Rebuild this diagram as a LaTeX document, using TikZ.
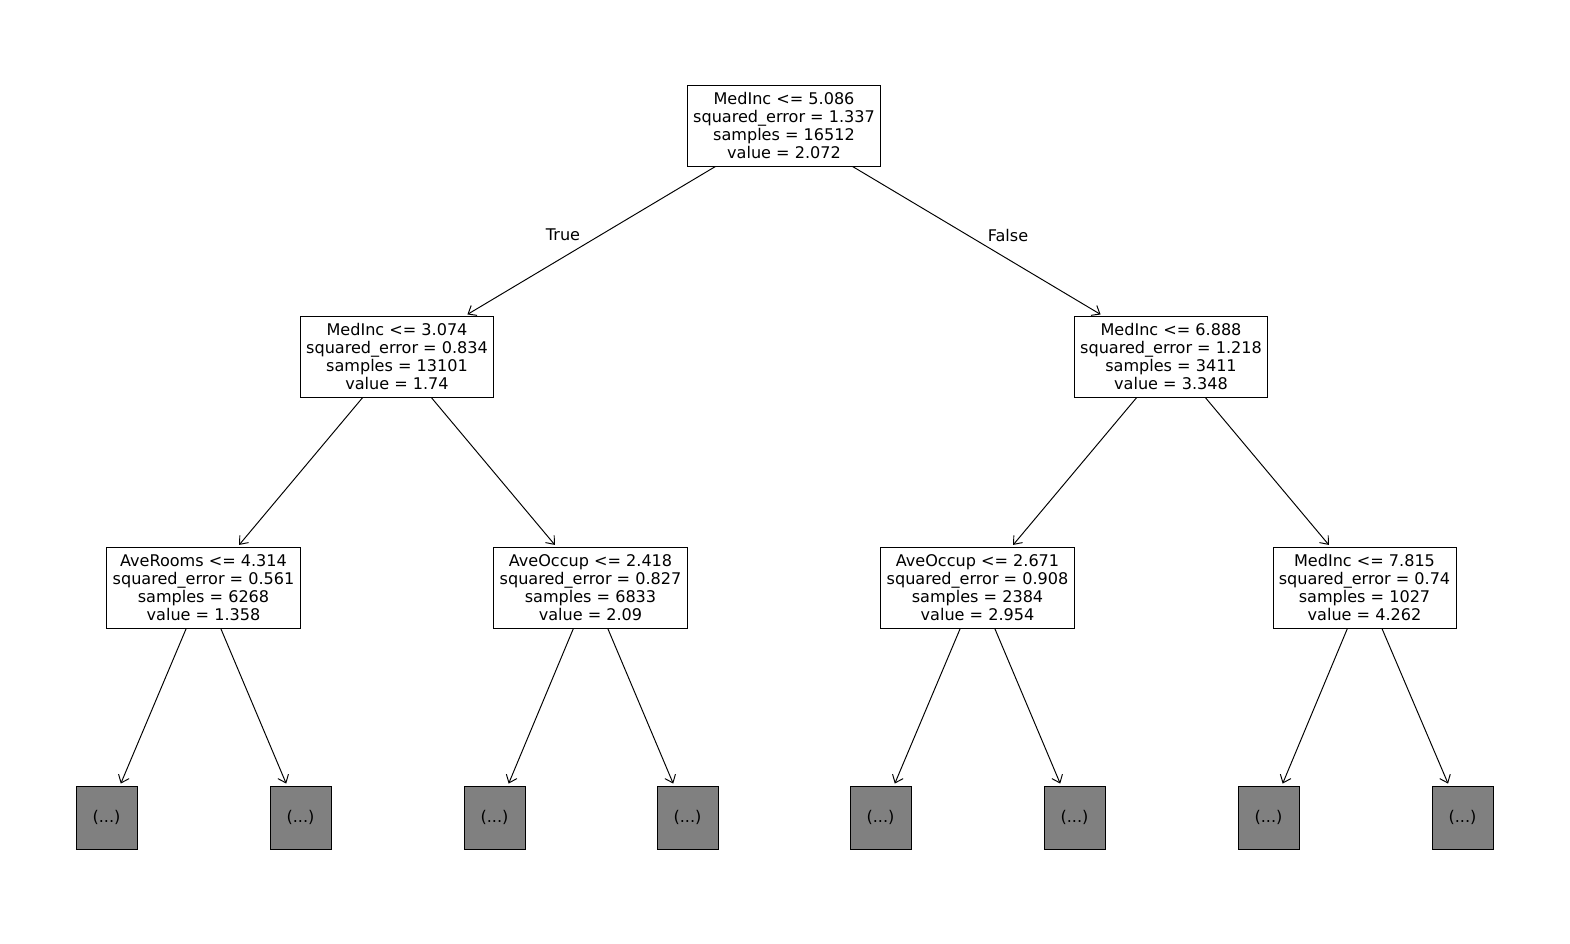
\documentclass[tikz,border=0pt]{standalone}
\usepackage{fontspec}
\setmainfont{DejaVu Sans}
\usetikzlibrary{arrows.meta}
\begin{document}
\begin{tikzpicture}[x=0.02cm,y=-0.02cm,
  split/.style={draw,line width=0.55pt,align=center,inner xsep=3.3pt,inner ysep=2pt,
    font=\fontsize{9.15}{10.25}\selectfont,minimum height=81*0.02cm},
  leaf/.style={draw,line width=0.55pt,fill=black!50,minimum width=61*0.02cm,minimum height=63*0.02cm,
    inner sep=0pt,font=\fontsize{9.15}{10.25}\selectfont},
  edge/.style={line width=0.55pt,-{Straight Barb[length=4pt,width=6.5pt]},shorten >=1.2pt},
  lbl/.style={font=\fontsize{9.15}{10.25}\selectfont}]
\useasboundingbox (0,0) rectangle (1570,944);
\node[split] (r) at (784,125.5) {MedInc <= 5.086\\squared\_error = 1.337\\samples = 16512\\value = 2.072};
\node[split] (a) at (397,356.5) {MedInc <= 3.074\\squared\_error = 0.834\\samples = 13101\\value = 1.74};
\node[split] (b) at (1171,356.5) {MedInc <= 6.888\\squared\_error = 1.218\\samples = 3411\\value = 3.348};
\node[split] (aa) at (203.5,587.5) {AveRooms <= 4.314\\squared\_error = 0.561\\samples = 6268\\value = 1.358};
\node[split] (ab) at (590.5,587.5) {AveOccup <= 2.418\\squared\_error = 0.827\\samples = 6833\\value = 2.09};
\node[split] (ba) at (977.5,587.5) {AveOccup <= 2.671\\squared\_error = 0.908\\samples = 2384\\value = 2.954};
\node[split] (bb) at (1364.5,587.5) {MedInc <= 7.815\\squared\_error = 0.74\\samples = 1027\\value = 4.262};
\node[leaf] (l1) at (106.5,817.5) {(...)};
\node[leaf] (l2) at (300.5,817.5) {(...)};
\node[leaf] (l3) at (494.5,817.5) {(...)};
\node[leaf] (l4) at (687.5,817.5) {(...)};
\node[leaf] (l5) at (880.5,817.5) {(...)};
\node[leaf] (l6) at (1074.5,817.5) {(...)};
\node[leaf] (l7) at (1268.5,817.5) {(...)};
\node[leaf] (l8) at (1462.5,817.5) {(...)};
\draw[edge] (r) -- (a);
\draw[edge] (r) -- (b);
\draw[edge] (a) -- (aa);
\draw[edge] (a) -- (ab);
\draw[edge] (b) -- (ba);
\draw[edge] (b) -- (bb);
\draw[edge] (aa) -- (l1);
\draw[edge] (aa) -- (l2);
\draw[edge] (ab) -- (l3);
\draw[edge] (ab) -- (l4);
\draw[edge] (ba) -- (l5);
\draw[edge] (ba) -- (l6);
\draw[edge] (bb) -- (l7);
\draw[edge] (bb) -- (l8);
\node[lbl] (t) at (563,235) {True};
\node[lbl] (f) at (1008,235) {False};
\end{tikzpicture}
\end{document}
